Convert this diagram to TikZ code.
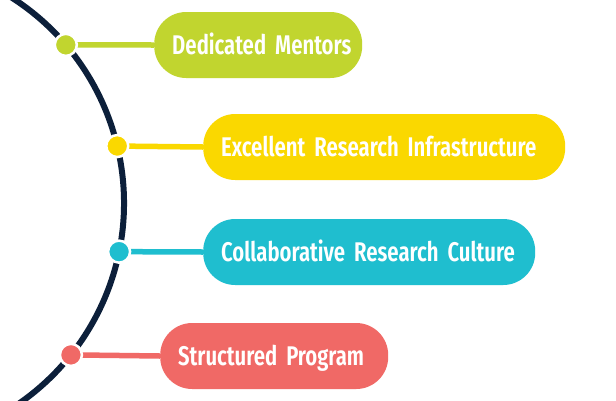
\documentclass[tikz,border=0pt]{standalone}
\usepackage{fontspec}
\setmainfont{Fira Sans Condensed}[UprightFont=* SemiBold,FakeStretch=0.83]
\usepackage{tikz}
\usetikzlibrary{positioning}
\definecolor{navy}{HTML}{0C1F3A}
\definecolor{leaf}{HTML}{C1D52F}
\definecolor{sun}{HTML}{FAD800}
\definecolor{lagoon}{HTML}{1FBECF}
\definecolor{coral}{HTML}{F06966}
\newcommand\pillfont{\fontsize{27}{27}\selectfont\spaceskip=4.5pt\relax}

\begin{document}
\begin{tikzpicture}[x=1pt,y=-1pt,
pill/.style={rounded corners=32pt,minimum height=66pt,inner xsep=18pt,anchor=west,align=left,
  text=white,text height=18.3pt,text depth=0pt,font=\pillfont},
dot/.style={circle,inner sep=0pt,minimum size=22pt,draw=white,line width=2.5pt},
link/.style={line width=5.5pt}]
\useasboundingbox (0,0) rectangle (616,400);
\clip (0,0) rectangle (616,400);
\fill[white](0,0) rectangle (616,400);
%%% the big curve
\coordinate (hub) at (-120,203);
\draw[navy,line width=6pt] ([shift={(-60:244)}]hub) arc(-60:60:244);
\coordinate (p1) at ([shift={(-40.4:244)}]hub);
\coordinate (p2) at ([shift={(-13.5:244)}]hub);
\coordinate (p3) at ([shift={(11.5:244)}]hub);
\coordinate (p4) at ([shift={(38.5:244)}]hub);
%%% pills
\node[pill,fill=leaf,text width=172pt] (mentors) at (154,45) {\mbox{Dedicated Mentors}};
\node[pill,fill=sun,text width=326pt] (infra) at (203,147) {\mbox{Excellent Research Infrastructure}};
\node[pill,fill=lagoon,text width=296pt] (culture) at (203,252) {\mbox{Collaborative Research Culture}};
\node[pill,fill=coral,text width=192pt] (program) at (160,356) {\mbox{Structured Program}};
%%% links and dots
\draw[link,leaf](p1)--(mentors.west);
\draw[link,sun](p2)--(infra.west);
\draw[link,lagoon](p3)--(culture.west);
\draw[link,coral](p4)--(program.west);
\node[dot,fill=leaf] (d1) at (p1) {};
\node[dot,fill=sun] (d2) at (p2) {};
\node[dot,fill=lagoon] (d3) at (p3) {};
\node[dot,fill=coral] (d4) at (p4) {};
\end{tikzpicture}
\end{document}
